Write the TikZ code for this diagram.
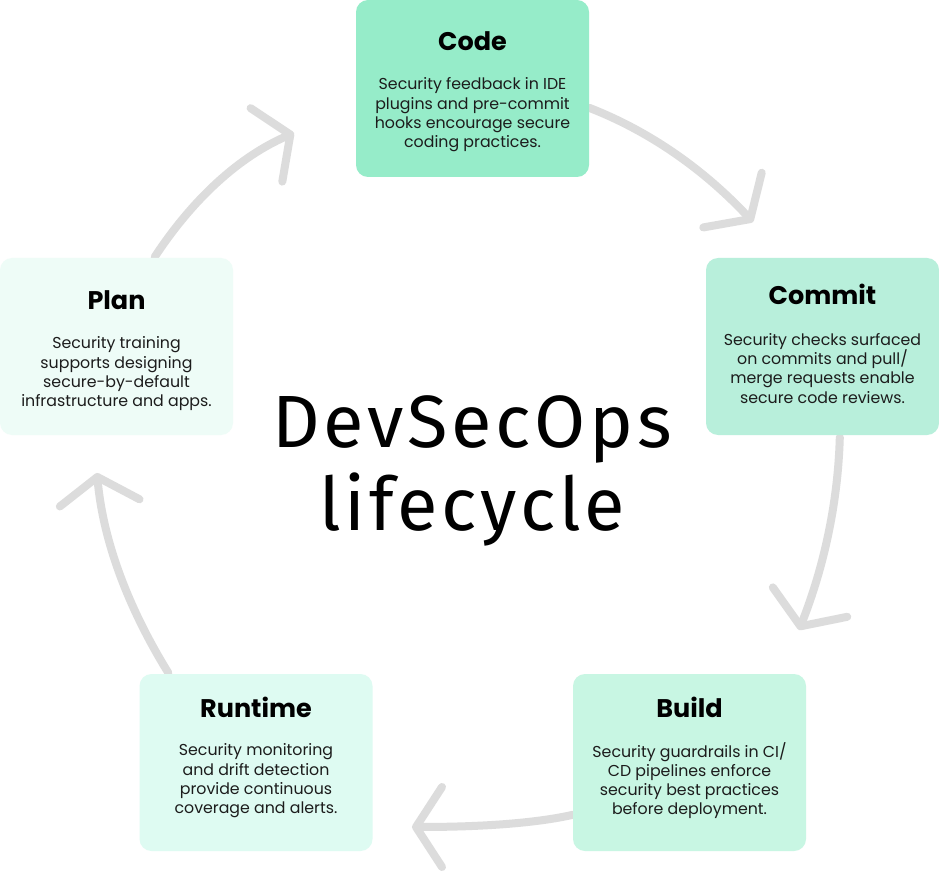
\documentclass[tikz,border=0pt]{standalone}
\usepackage{fontspec}
\setmainfont{Poppins}
\newfontfamily\titlefont[LetterSpace=5]{Fira Sans}
\usetikzlibrary{arrows.meta,calc,backgrounds}
\definecolor{codec}{HTML}{96ECC9}
\definecolor{commitc}{HTML}{B8EFDB}
\definecolor{buildc}{HTML}{C8F6E3}
\definecolor{runc}{HTML}{DEFBF2}
\definecolor{planc}{HTML}{EEFCF7}
\definecolor{arrowgray}{HTML}{DCDCDC}
\definecolor{bodytext}{HTML}{1C1C1C}
\begin{document}
\begin{tikzpicture}[x=1pt,y=-1pt,
  box/.style={rounded corners=12pt, minimum width=233pt, minimum height=177pt, inner sep=0pt, draw=none},
  head/.style={font=\fontsize{25.5}{30}\selectfont\bfseries, inner sep=0pt, text=black},
  body/.style={font=\fontsize{15.8}{19.2}\selectfont, align=center, inner sep=0pt, text=bodytext},
  flow/.style={draw=arrowgray, line width=8pt, line cap=round,
    -{Straight Barb[length=26pt, width=80pt, round]}},
  bigtitle/.style={font=\titlefont\fontsize{74}{83}\selectfont, align=center, inner sep=0pt, text=black}
]
\useasboundingbox (0,0) rectangle (939,874);

% boxes
\node[box, fill=codec]   (code)    at (472.5,88.5) {};
\node[box, fill=commitc] (commit)  at (822.5,346.5) {};
\node[box, fill=buildc]  (build)   at (689.5,762.5) {};
\node[box, fill=runc]    (runtime) at (256,762.5) {};
\node[box, fill=planc]   (plan)    at (116.5,346.5) {};

% headings
\node[head] (codeH)    at ($(code.north)+(0,41)$) {Code};
\node[head] (commitH)  at ($(commit.north)+(0,37)$) {Commit};
\node[head] (buildH)   at ($(build.north)+(0,33.5)$) {Build};
\node[head] (runtimeH) at ($(runtime.north)+(0,33.5)$) {Runtime};
\node[head] (planH)    at ($(plan.north)+(0,42)$) {Plan};

% bodies
\node[body] (codeB) at ($(code.north)+(0,115)$)
  {Security feedback in IDE\\plugins and pre-commit\\hooks encourage secure\\coding practices.};
\node[body] (commitB) at ($(commit.north)+(0,110.5)$)
  {Security checks surfaced\\on commits and pull/\\merge requests enable\\secure code reviews.};
\node[body] (buildB) at ($(build.north)+(0,107)$)
  {Security guardrails in CI/\\CD pipelines enforce\\security best practices\\before deployment.};
\node[body] (runtimeB) at ($(runtime.north)+(0,107)$)
  {Security monitoring\\and drift detection\\provide continuous\\coverage and alerts.};
\node[body] (planB) at ($(plan.north)+(0,116)$)
  {Security training\\supports designing\\secure-by-default\\infrastructure and apps.};

% centre title
\node[bigtitle] (title) at (472,471) {DevSecOps\\lifecycle};

% arrow end points
\coordinate (a1s) at ($(code.north east)+(0,108)$);
\coordinate (a1e) at (753,222);
\coordinate (a2s) at ($(commit.south west)+(134,2)$);
\coordinate (a2e) at (799,630);
\coordinate (a3s) at ($(build.north west)+(0,141)$);
\coordinate (a3e) at (412,827);
\coordinate (a4s) at ($(runtime.north west)+(29,-1)$);
\coordinate (a4e) at (97,473);
\coordinate (a5s) at ($(plan.north west)+(155,-1)$);
\coordinate (a5e) at (294,133);

\begin{scope}[on background layer]
\fill[white] (0,0) rectangle (939,874);
\draw[flow] (a1s) .. controls (649.2,131.1) and (703.5,169.1) .. (a1e);
\draw[flow] (a2s) .. controls (838,501.7) and (824.3,566) .. (a2e);
\draw[flow] (a3s) .. controls (536.7,823) and (483,827) .. (a3e);
\draw[flow] (a4s) .. controls (126.6,605.3) and (102.9,538.6) .. (a4e);
\draw[flow] (a5s) .. controls (193.7,197.7) and (240,156.3) .. (a5e);
\end{scope}
\end{tikzpicture}
\end{document}
